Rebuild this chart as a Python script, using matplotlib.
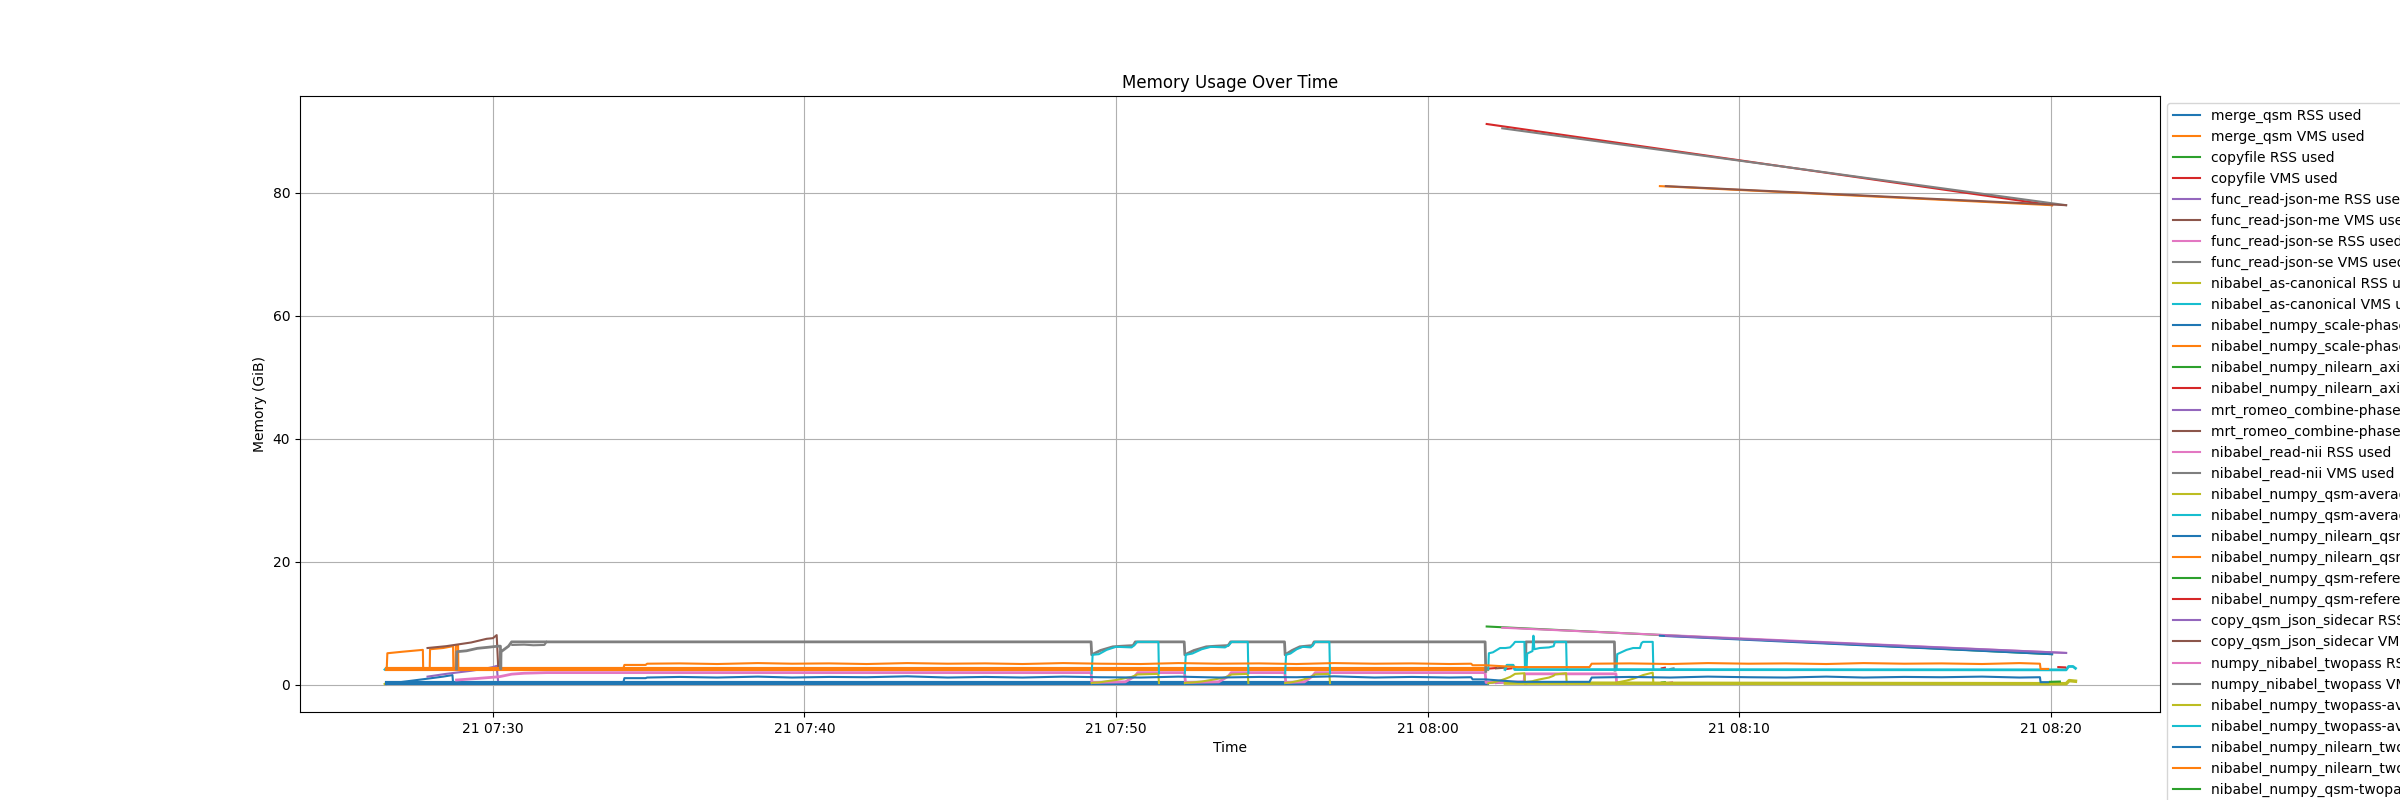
import numpy as np
import pandas as pd
import matplotlib
matplotlib.use("Agg")
import matplotlib.pyplot as plt

nan = float("nan")
BASE = pd.Timestamp("2024-05-21 07:30:00")  # times below are minutes after 07:30

# ---------------- data (minutes after 07:30, GiB) ----------------
merge_qsm_rss_t = [-3.41, -2.9, -2.2, -1.6, -1.3, -1.28]
merge_qsm_rss_v = [0.15, 0.5, 0.95, 1.35, 1.6, 0.3]
merge_qsm_vms_t = [-3.41, -3.39, -2.9, -2.25, -2.24, -2.03, -2.02, -1.6, -1.28, -1.27, -1.2, -1.19, -1.12, -1.11]
merge_qsm_vms_v = [2.6, 5.15, 5.4, 5.7, 2.6, 2.6, 5.8, 6.0, 6.3, 2.6, 2.6, 6.35, 6.4, 2.6]

copyfile_t = [31.9, 50.05]
copyfile_rss_v = [9.5, 5.0]
copyfile_vms_v = [91.2, 78.0]

json_me_t = [-2.1, -1.5, -0.7, -0.2, 0.0, 0.12, 0.17]
json_me_rss_v = [1.35, 1.8, 2.3, 2.7, 2.9, 3.1, 0.3]
json_me_vms_v = [6.0, 6.3, 6.9, 7.5, 7.6, 8.1, 2.7]

json_se_t = [32.4, 50.5]
json_se_rss_v = [9.3, 5.2]
json_se_vms_v = [90.5, 78.0]

canonical_t = [-3.48, -3.42, -3.35]
canonical_rss_v = [0.15, 0.35, 0.3]
canonical_vms_v = [2.5, 2.8, 2.7]

scale_phase_t = [-3.41, 5.0, 15.0, 25.0, 31.9]
scale_phase_rss_v = [0.3, 0.3, 0.3, 0.3, 0.3]
scale_phase_vms_v = [2.65, 2.65, 2.65, 2.65, 2.65]

axial_t = [31.95, 32.2, nan, 37.52, 37.62]
axial_rss_v = [0.35, 0.45, nan, 0.4, 0.45]
axial_vms_v = [2.65, 2.75, nan, 2.7, 2.8]

romeo_t = [32.2, 32.48]
romeo_rss_v = [0.3, 0.4]
romeo_vms_v = [2.7, 2.8]

read_nii_rss_t = [-1.17, -0.5, 0.0, 0.22, 0.6, 1.0, 1.72, 19.2, 19.23, 20.3, 20.6, 20.7,
                  22.2, 22.23, 23.3, 23.6, 23.7, 25.42, 25.45, 26.05, 26.3, 26.4,
                  31.85, 31.88, 33.1, 33.12, 36.05, 36.07]
read_nii_rss_v = [0.8, 1.05, 1.25, 1.35, 1.75, 1.9, 2.0, 2.0, 0.4, 0.5, 1.4, 2.0,
                  2.0, 0.4, 0.5, 1.4, 2.0, 2.0, 0.4, 0.5, 1.4, 2.0,
                  2.0, 0.4, 0.5, 1.8, 1.8, 0.4]
read_nii_vms_t = [-1.17, -1.16, -0.85, -0.5, -0.2, 0.17, 0.24, 0.25, 0.26, 0.5, 0.6, 18.1, 19.2,
                  19.22, 19.5, 19.9, 20.2, 20.55, 20.62, 22.19,
                  22.21, 22.5, 22.9, 23.2, 23.6, 23.68, 25.41,
                  25.43, 25.65, 25.9, 26.1, 26.3, 26.36, 31.85,
                  31.87, nan, 33.15, 33.16, 36.0, 36.02]
read_nii_vms_v = [2.6, 5.4, 5.55, 5.95, 6.1, 6.3, 6.3, 2.6, 5.4, 6.3, 7.0, 7.0, 7.0,
                  4.9, 5.6, 6.2, 6.3, 6.4, 7.0, 7.0,
                  4.9, 5.6, 6.2, 6.3, 6.4, 7.0, 7.0,
                  4.9, 5.6, 6.2, 6.3, 6.4, 7.0, 7.0,
                  2.2, nan, 2.5, 7.0, 7.0, 2.4]

# nibabel_numpy_qsm-average: repeated runs (cycles)
cycle1_t = [19.22, 19.25, 19.45, 19.7, 20.0, 20.5, 20.6, 20.68, 21.36, 21.38, nan]
cycle1_vms = [1.9, 4.9, 5.0, 5.7, 6.2, 6.1, 6.5, 7.0, 7.0, 1.9, nan]
cycle1_rss = [0.3, 0.35, 0.4, 0.6, 0.8, 1.3, 1.5, 1.7, 1.8, 0.3, nan]
cycle2_t = [22.21, 22.24, 22.45, 22.75, 23.05, 23.5, 23.63, 23.71, 24.23, 24.25, nan]
cycle2_vms = [1.9, 4.9, 5.1, 5.8, 6.2, 6.1, 6.5, 7.0, 7.0, 1.9, nan]
cycle2_rss = [0.3, 0.35, 0.4, 0.55, 0.8, 1.2, 1.5, 1.7, 1.8, 0.3, nan]
cycle3_t = [25.43, 25.46, 25.6, 25.8, 26.0, 26.25, 26.33, 26.39, 26.85, 26.87, nan]
cycle3_vms = [1.9, 4.9, 5.1, 5.8, 6.2, 6.1, 6.5, 7.0, 7.0, 1.9, nan]
cycle3_rss = [0.3, 0.35, 0.4, 0.6, 0.85, 1.3, 1.5, 1.7, 1.8, 0.3, nan]
cycle4_t = [31.95, 31.97, 32.1, 32.33, 32.5, 32.65, 32.75, 32.81, 33.11, 33.13, nan]
cycle4_vms = [2.5, 5.15, 5.3, 6.0, 6.0, 6.1, 6.6, 7.0, 7.0, 2.5, nan]
cycle4_rss = [0.25, 0.3, 0.4, 0.7, 1.0, 1.3, 1.6, 1.8, 1.9, 0.25, nan]
cycle5_t = [33.18, 33.2, 33.37, 33.4, 33.43, 33.6, 33.9, 34.05, 34.09, 34.45, 34.47, nan]
cycle5_vms = [2.5, 5.1, 5.5, 8.0, 5.8, 6.0, 6.1, 6.3, 7.0, 7.0, 2.5, nan]
cycle5_rss = [0.25, 0.5, 0.6, 0.65, 0.7, 0.9, 1.2, 1.5, 1.7, 1.9, 0.25, nan]
cycle6_t = [36.07, 36.09, 36.39, 36.6, 36.82, 36.87, 36.92, 37.23, 37.25]
cycle6_vms = [2.5, 5.0, 5.7, 6.0, 6.0, 6.8, 7.0, 7.0, 2.5]
cycle6_rss = [0.25, 0.4, 0.7, 1.0, 1.4, 1.5, 1.6, 2.0, 0.25]

nilearn_qsm_t = [37.46, 50.05]
nilearn_qsm_rss_v = [8.0, 5.0]
nilearn_qsm_vms_v = [81.1, 78.0]

reference_t = [32.55, 32.7]
reference_rss_v = [0.35, 0.4]
reference_vms_v = [2.6, 2.7]

sidecar_t = [37.65, 50.5]
sidecar_rss_v = [8.0, 5.2]
sidecar_vms_v = [81.1, 78.0]

twopass_rss_t = [37.7, 37.85]
twopass_rss_v = [0.3, 0.45]
twopass_vms_t = [0.62, 1.0, 1.3, 1.65, 1.72, nan, 37.8, 37.9]
twopass_vms_v = [6.5, 6.55, 6.45, 6.5, 7.0, nan, 2.6, 2.7]

twopass_avg_rss_t = [32.5, 40.0, 50.5, 50.6, 50.8]
twopass_avg_rss_v = [0.3, 0.25, 0.2, 0.7, 0.6]
twopass_avg_vms_t = [32.49, 32.55, 32.75, 32.8, 50.5, 50.58, 50.72, 50.8]
twopass_avg_vms_v = [2.5, 3.2, 3.2, 2.5, 2.45, 3.0, 3.0, 2.7]

nilearn_two_t = [4.18, 4.22, 4.9, 4.95, 6.0, 7.2, 8.5, 9.6, 10.8, 12.0, 13.3, 14.6, 15.8, 17.0,
                 18.3, 19.5, 20.8, 22.0, 23.3, 24.6, 25.8, 27.0, 28.3, 29.5, 30.7, 31.4, 31.45,
                 31.85, 32.9, 35.2, 35.27, 36.5, 37.8, 39.0, 40.3, 41.5, 42.8, 44.0, 45.3, 46.5,
                 47.8, 49.0, 49.66, 49.68, 49.92]
nilearn_two_rss_v = [0.3, 1.1, 1.1, 1.2, 1.3, 1.2, 1.35, 1.2, 1.3, 1.25, 1.4, 1.2, 1.3, 1.2,
                     1.35, 1.25, 1.2, 1.35, 1.2, 1.3, 1.25, 1.4, 1.2, 1.3, 1.2, 1.25, 0.9,
                     0.9, 0.5, 0.5, 1.2, 1.3, 1.2, 1.35, 1.25, 1.2, 1.35, 1.2, 1.3, 1.25,
                     1.35, 1.2, 1.25, 0.45, 0.45]
nilearn_two_vms_v = [2.6, 3.25, 3.25, 3.45, 3.5, 3.4, 3.55, 3.45, 3.5, 3.4, 3.55, 3.45, 3.5, 3.4,
                     3.55, 3.45, 3.4, 3.55, 3.45, 3.5, 3.4, 3.55, 3.45, 3.5, 3.4, 3.45, 3.2,
                     3.2, 2.9, 2.9, 3.45, 3.5, 3.4, 3.55, 3.45, 3.5, 3.4, 3.55, 3.45, 3.5,
                     3.4, 3.55, 3.45, 2.6, 2.6]

qsm_twopass_t = [49.98, 50.3]
qsm_twopass_rss_v = [0.5, 0.55]
qsm_twopass_vms_t = [50.25, 50.47]
qsm_twopass_vms_v = [2.9, 2.85]

qsm_avg_t = cycle1_t + cycle2_t + cycle3_t + cycle4_t + cycle5_t + cycle6_t
qsm_avg_rss_v = cycle1_rss + cycle2_rss + cycle3_rss + cycle4_rss + cycle5_rss + cycle6_rss
qsm_avg_vms_v = cycle1_vms + cycle2_vms + cycle3_vms + cycle4_vms + cycle5_vms + cycle6_vms

series = [
    ("merge_qsm RSS used", merge_qsm_rss_t, merge_qsm_rss_v),
    ("merge_qsm VMS used", merge_qsm_vms_t, merge_qsm_vms_v),
    ("copyfile RSS used", copyfile_t, copyfile_rss_v),
    ("copyfile VMS used", copyfile_t, copyfile_vms_v),
    ("func_read-json-me RSS used", json_me_t, json_me_rss_v),
    ("func_read-json-me VMS used", json_me_t, json_me_vms_v),
    ("func_read-json-se RSS used", json_se_t, json_se_rss_v),
    ("func_read-json-se VMS used", json_se_t, json_se_vms_v),
    ("nibabel_as-canonical RSS used", canonical_t, canonical_rss_v),
    ("nibabel_as-canonical VMS used", canonical_t, canonical_vms_v),
    ("nibabel_numpy_scale-phase RSS used", scale_phase_t, scale_phase_rss_v),
    ("nibabel_numpy_scale-phase VMS used", scale_phase_t, scale_phase_vms_v),
    ("nibabel_numpy_nilearn_axial-resampling RSS used", axial_t, axial_rss_v),
    ("nibabel_numpy_nilearn_axial-resampling VMS used", axial_t, axial_vms_v),
    ("mrt_romeo_combine-phase RSS used", romeo_t, romeo_rss_v),
    ("mrt_romeo_combine-phase VMS used", romeo_t, romeo_vms_v),
    ("nibabel_read-nii RSS used", read_nii_rss_t, read_nii_rss_v),
    ("nibabel_read-nii VMS used", read_nii_vms_t, read_nii_vms_v),
    ("nibabel_numpy_qsm-average RSS used", qsm_avg_t, qsm_avg_rss_v),
    ("nibabel_numpy_qsm-average VMS used", qsm_avg_t, qsm_avg_vms_v),
    ("nibabel_numpy_nilearn_qsm-resample RSS used", nilearn_qsm_t, nilearn_qsm_rss_v),
    ("nibabel_numpy_nilearn_qsm-resample VMS used", nilearn_qsm_t, nilearn_qsm_vms_v),
    ("nibabel_numpy_qsm-referencing RSS used", reference_t, reference_rss_v),
    ("nibabel_numpy_qsm-referencing VMS used", reference_t, reference_vms_v),
    ("copy_qsm_json_sidecar RSS used", sidecar_t, sidecar_rss_v),
    ("copy_qsm_json_sidecar VMS used", sidecar_t, sidecar_vms_v),
    ("numpy_nibabel_twopass RSS used", twopass_rss_t, twopass_rss_v),
    ("numpy_nibabel_twopass VMS used", twopass_vms_t, twopass_vms_v),
    ("nibabel_numpy_twopass-average RSS used", twopass_avg_rss_t, twopass_avg_rss_v),
    ("nibabel_numpy_twopass-average VMS used", twopass_avg_vms_t, twopass_avg_vms_v),
    ("nibabel_numpy_nilearn_twopass-resample RSS used", nilearn_two_t, nilearn_two_rss_v),
    ("nibabel_numpy_nilearn_twopass-resample VMS used", nilearn_two_t, nilearn_two_vms_v),
    ("nibabel_numpy_qsm-twopass RSS used", qsm_twopass_t, qsm_twopass_rss_v),
    ("nibabel_numpy_qsm-twopass VMS used", qsm_twopass_vms_t, qsm_twopass_vms_v),
]

# heavier strokes where the reference shows densely overlapping samples
thick = {"nibabel_numpy_scale-phase RSS used": 3.0,
         "nibabel_numpy_scale-phase VMS used": 3.0,
         "nibabel_read-nii RSS used": 2.0,
         "nibabel_read-nii VMS used": 2.0,
         "nibabel_numpy_twopass-average RSS used": 2.5,
         "nibabel_numpy_twopass-average VMS used": 2.0}

# ---------------- plot ----------------
fig, ax = plt.subplots(figsize=(24, 8), dpi=100)
for name, t, v in series:
    tt = np.array(t, dtype=float)
    vv = np.array(v, dtype=float)
    times = BASE + pd.to_timedelta(np.nan_to_num(tt, nan=0.0), unit="m")
    vv = np.where(np.isnan(tt), np.nan, vv)
    ax.plot(times, vv, label=name, lw=thick.get(name, 1.5))

ax.set_title("Memory Usage Over Time")
ax.set_xlabel("Time")
ax.set_ylabel("Memory (GiB)")
ax.grid(True)
leg = ax.legend(loc="upper left", bbox_to_anchor=(1, 1))
for line in leg.get_lines():
    line.set_linewidth(1.5)
fig.savefig("out.png", dpi=100)
